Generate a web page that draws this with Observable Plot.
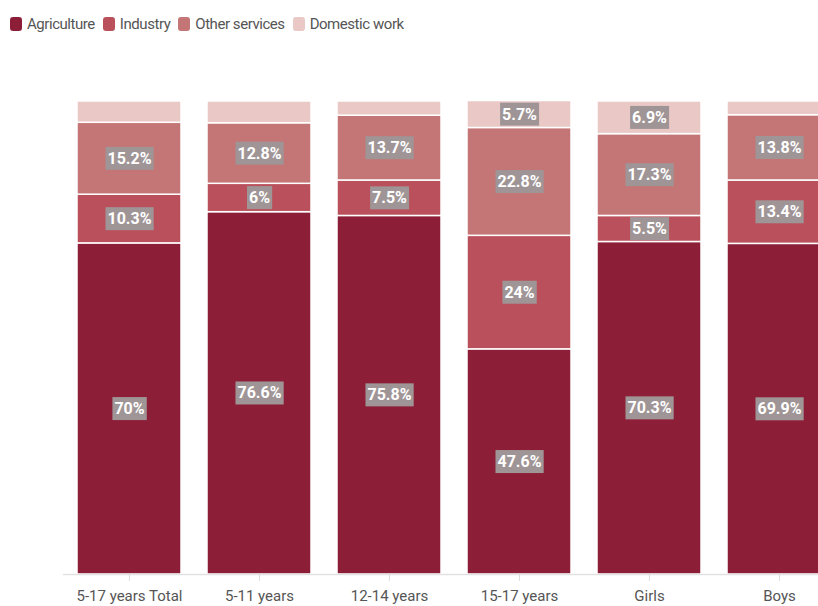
<!DOCTYPE html>
<html>
<head>
<meta charset="utf-8">
<script src="https://cdn.jsdelivr.net/npm/d3@7"></script>
<script src="https://cdn.jsdelivr.net/npm/@observablehq/plot@0.6"></script>
<style>
  body { margin: 0; background: #fff; font-family: Roboto, "Noto Sans", sans-serif; }
  #legend { height: 50px; display: flex; align-items: center; padding-left: 10px; box-sizing: border-box; padding-bottom: 2px; font-size: 15px; letter-spacing: -0.45px; color: #555; }
  .item { display: flex; align-items: center; margin-right: 8px; }
  .sw { width: 12px; height: 14px; border-radius: 3px; margin-right: 5px; }
  #chart svg { display: block; }
</style>
</head>
<body>
<div id="legend"></div>
<div id="chart"></div>
<script>
const groups = ["5-17 years Total", "5-11 years", "12-14 years", "15-17 years", "Girls", "Boys"];
const sectors = ["Agriculture", "Industry", "Other services", "Domestic work"];
const colors = ["#8c1f37", "#b9505b", "#c47575", "#e9c8c6"];
const agriculture = [70, 76.6, 75.8, 47.6, 70.3, 69.9];
const industry = [10.3, 6, 7.5, 24, 5.5, 13.4];
const otherServices = [15.2, 12.8, 13.7, 22.8, 17.3, 13.8];
const domesticWork = [4.5, 4.6, 3.0, 5.7, 6.9, 2.9];

const series = [agriculture, industry, otherServices, domesticWork];
const data = [];
groups.forEach((g, i) => {
  sectors.forEach((s, j) => data.push({group: g, sector: s, value: series[j][i]}));
});

const legend = document.getElementById("legend");
sectors.forEach((s, j) => {
  const it = document.createElement("div");
  it.className = "item";
  it.innerHTML = `<span class="sw" style="background:${colors[j]}"></span><span>${s}</span>`;
  legend.appendChild(it);
});

const chart = Plot.plot({
  width: 818,
  height: 556,
  marginTop: 51,
  marginBottom: 32,
  marginLeft: 63,
  marginRight: 0,
  style: {fontFamily: "Roboto, sans-serif", background: "#fff"},
  x: {domain: groups, range: [64, 844], paddingInner: 0.2, paddingOuter: 0.1, label: null},
  y: {domain: [0, 100], axis: null},
  color: {domain: sectors, range: colors},
  marks: [
    Plot.barY(data, Plot.stackY({x: "group", y: "value", fill: "sector", order: sectors, stroke: "white", strokeWidth: 1.5})),
    Plot.ruleY([0], {stroke: "#e2e2e2", strokeWidth: 1.5}),
    Plot.axisX({tickSize: 7, tickPadding: 9, stroke: "#dddddd", fontSize: 15, fill: "#555", label: null}),
    Plot.text(data, Plot.stackY({x: "group", y: "value", z: "sector", order: sectors,
      text: d => d.value >= 5 ? `${d.value}%` : "", fill: "white", fontSize: 16, fontWeight: "bold",
      className: "seglabel"}))
  ]
});
document.getElementById("chart").appendChild(chart);

// gray label backgrounds
d3.select(chart).selectAll(".seglabel text").each(function() {
  if (!this.textContent) return;
  const b = this.getBBox();
  const padX = 2, padY = 2;
  const r = document.createElementNS("http://www.w3.org/2000/svg", "rect");
  r.setAttribute("x", b.x - padX);
  r.setAttribute("y", b.y - padY);
  r.setAttribute("width", b.width + 2 * padX);
  r.setAttribute("height", b.height + 2 * padY);
  r.setAttribute("fill", "#a09596");
  r.setAttribute("stroke", "none");
  const t = this.getAttribute("transform");
  if (t) r.setAttribute("transform", t);
  this.parentNode.insertBefore(r, this);
});
</script>
</body>
</html>
